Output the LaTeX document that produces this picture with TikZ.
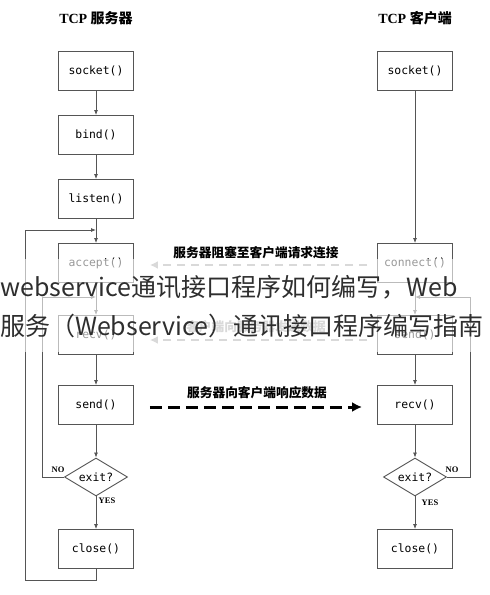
\documentclass[tikz,border=0pt]{standalone}
\usepackage{fontspec}
\setmainfont{Liberation Serif}
\setmonofont{DejaVu Sans Mono}
\newfontfamily\cjk{Noto Sans CJK SC}
\usetikzlibrary{shapes.geometric,arrows.meta}

\definecolor{linea}{HTML}{555555}
\definecolor{grisclaro}{HTML}{A0A0A0}
\definecolor{marca}{HTML}{2E2E2E}

\tikzset{
  caja/.style={draw=linea, fill=white, line width=0.9pt, minimum width=75pt,
    minimum height=39pt, font=\ttfamily\fontsize{11.4}{13}\selectfont},
  rombo/.style={diamond, draw=linea, fill=white, line width=0.9pt, aspect=1.66,
    inner sep=0pt, minimum width=63pt, minimum height=38pt,
    font=\ttfamily\fontsize{11.4}{13}\selectfont},
  flujo/.style={draw=linea, line width=0.8pt, -{Latex[length=5pt,width=4pt]}},
  peticion/.style={draw=grisclaro, line width=2.6pt, dash pattern=on 8pt off 6pt,
    -{Latex[length=8pt,width=8pt]}},
  respuesta/.style={draw=black, line width=3pt, dash pattern=on 12pt off 6pt,
    -{Latex[length=10pt,width=10pt]}},
  titulo/.style={font=\bfseries\fontsize{14}{16}\selectfont},
  rotulo/.style={font=\cjk\bfseries\fontsize{12.7}{14}\selectfont},
  opcion/.style={font=\bfseries\fontsize{8.5}{9}\selectfont},
  marcaagua/.style={anchor=west, inner sep=0pt, text=marca,
    font=\cjk\fontsize{25}{28}\selectfont}
}

\begin{document}
\begin{tikzpicture}[x=1pt, y=-1pt]
    \useasboundingbox (0,0) rectangle (490,595);

    % Titulos
    \node[titulo] (tserv) at (96,18) {TCP {\cjk 服务器}};
    \node[titulo] (tcli) at (415,18) {TCP {\cjk 客户端}};

    % Servidor
    \node[caja] (ssocket) at (96,71) {socket()};
    \node[caja] (sbind) at (96,135) {bind()};
    \node[caja] (slisten) at (96,199) {listen()};
    \node[caja] (saccept) at (96,263) {accept()};
    \node[caja] (srecv) at (96,335) {recv()};
    \node[caja] (ssend) at (96,405) {send()};
    \node[rombo] (sexit) at (96,477) {exit?};
    \node[caja] (sclose) at (96,549) {close()};

    % Cliente
    \node[caja] (csocket) at (415,71) {socket()};
    \node[caja] (cconnect) at (415,263) {connect()};
    \node[caja] (csend) at (415,335) {send()};
    \node[caja] (crecv) at (415,405) {recv()};
    \node[rombo] (cexit) at (415,477) {exit?};
    \node[caja] (cclose) at (415,549) {close()};

    % Flechas del servidor
    \draw[flujo] (ssocket) -- (sbind);
    \draw[flujo] (sbind) -- (slisten);
    \draw[flujo] (slisten) -- (saccept);
    \draw[flujo] (saccept) -- (srecv);
    \draw[flujo] (srecv) -- (ssend);
    \draw[flujo] (ssend) -- (sexit);
    \draw[flujo] (sexit) -- (sclose);

    % Flechas del cliente
    \draw[flujo] (csocket) -- (cconnect);
    \draw[flujo] (cconnect) -- (csend);
    \draw[flujo] (csend) -- (crecv);
    \draw[flujo] (crecv) -- (cexit);
    \draw[flujo] (cexit) -- (cclose);

    % Bucles
    \coordinate (bucle1) at (25,580);
    \coordinate (entrada1) at (96,230);
    \coordinate (bucle2) at (42,297);
    \coordinate (entrada2) at (96,297);
    \coordinate (bucle3) at (470,297);
    \coordinate (entrada3) at (415,297);
    \draw[flujo] (sclose.south) |- (bucle1) |- (entrada1);
    \draw[flujo] (sexit.west) -| (bucle2) -- (entrada2);
    \draw[flujo] (cexit.east) -| (bucle3) -- (entrada3);

    % Opciones
    \node[opcion] (sno) at (58,470) {NO};
    \node[opcion] (syes) at (107,501) {YES};
    \node[opcion] (cno) at (452,470) {NO};
    \node[opcion] (cyes) at (430,503) {YES};

    % Mensajes entre ambos
    \draw[peticion, shorten <=10pt, shorten >=16pt]
      ([yshift=-2pt]cconnect.west) -- ([yshift=-2pt]saccept.east);
    \draw[peticion, shorten <=10pt, shorten >=16pt]
      ([yshift=-5pt]csend.west) -- ([yshift=-5pt]srecv.east);
    \draw[respuesta, shorten <=16pt, shorten >=15pt]
      ([yshift=-2pt]ssend.east) -- ([yshift=-2pt]crecv.west);
    \node[rotulo] (lconexion) at (256,253) {服务器阻塞至客户端请求连接};
    \node[rotulo, text=grisclaro] (lenvio) at (256,327) {客户端向服务器发送数据};
    \node[rotulo] (lrespuesta) at (257,393) {服务器向客户端响应数据};

    % Marca de agua
    \fill[white, opacity=0.6] (0,259) rectangle (490,352);
    \node[marcaagua] (marca1) at (0,287) {webservice通讯接口程序如何编写，Web};
    \node[marcaagua] (marca2) at (0,326) {服务（Webservice）通讯接口程序编写指南};

\end{tikzpicture}
\end{document}
